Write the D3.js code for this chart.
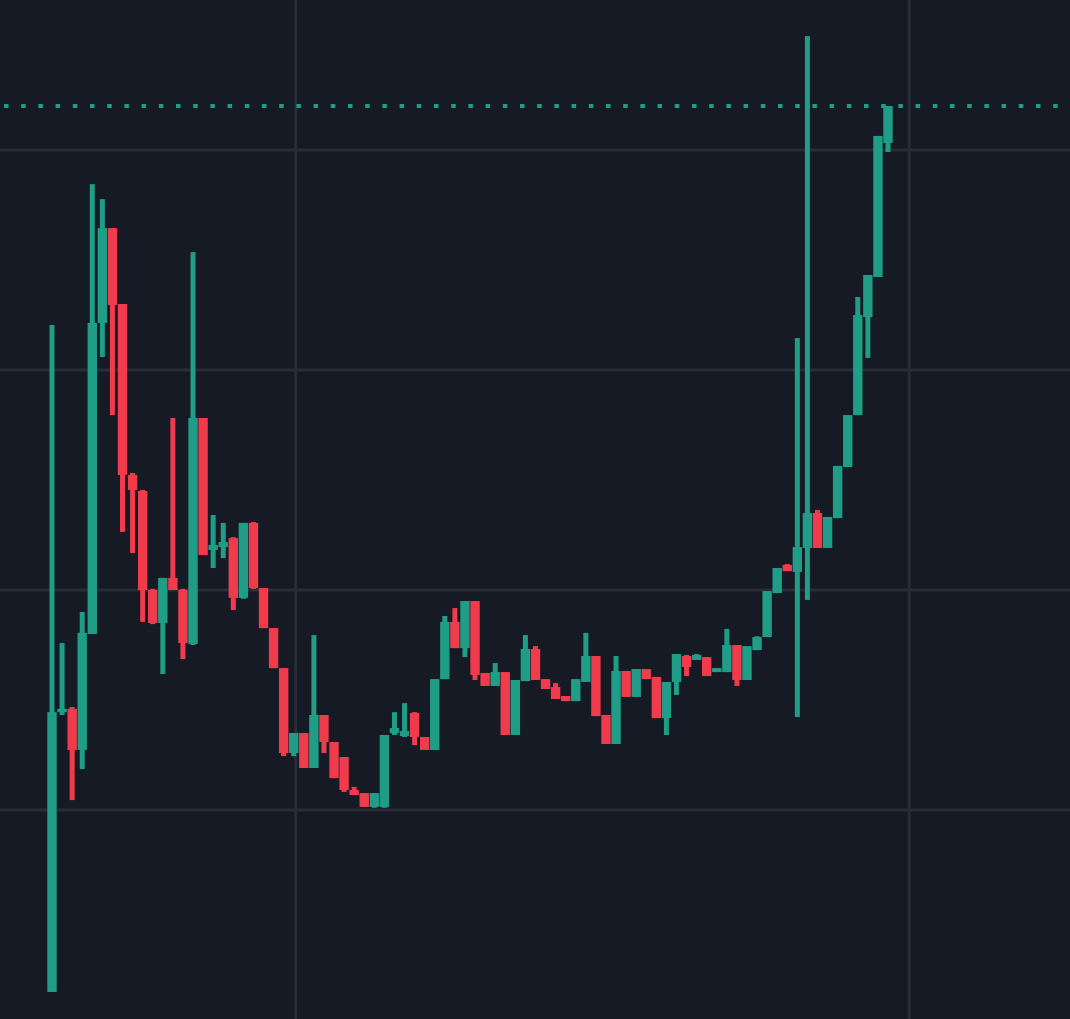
<!DOCTYPE html>
<html>
<head>
<meta charset="utf-8">
<script src="https://cdn.jsdelivr.net/npm/d3@7"></script>
<style>
  html, body { margin: 0; padding: 0; background: #161a25; overflow: hidden; }
  svg { display: block; }
</style>
</head>
<body>
<svg id="chart" width="1070" height="1019"></svg>
<script>
// ---- Data ----
const candleIndex = d3.range(84);
const open  = [17.3,144.5,146.0,127.3,180.0,321.4,364.5,330.0,252.3,245.0,200.0,185.0,205.5,200.0,175.5,278.2,218.2,219.5,223.6,196.4,230.5,200.9,182.7,164.5,125.9,135.0,119.1,143.2,130.9,124.1,109.1,107.7,101.4,101.4,135.0,133.6,144.1,133.2,127.3,159.5,185.5,173.6,195.0,162.3,156.4,162.7,134.1,158.6,173.2,159.5,155.9,151.8,149.5,158.2,170.0,143.2,130.0,163.2,151.4,164.1,160.5,141.8,158.2,170.0,168.2,169.5,162.7,162.7,175.0,159.1,172.7,178.6,198.6,211.4,208.2,219.1,235.0,219.1,232.7,255.9,279.5,324.1,342.3,403.2];
const high  = [320.5,175.9,146.8,190.0,384.5,377.7,364.5,330.0,253.2,245.5,200.5,205.5,278.2,200.5,353.6,278.2,234.1,230.5,224.0,230.5,230.9,200.9,182.7,164.5,135.0,135.0,179.5,143.2,130.9,124.1,110.5,107.7,107.7,134.1,144.5,148.6,144.5,133.2,159.5,188.2,191.8,195.0,195.0,162.3,166.8,162.7,159.1,179.5,174.5,159.5,157.7,151.8,159.5,180.5,170.0,143.2,170.0,163.2,164.1,164.1,160.5,158.2,170.9,170.5,170.9,169.5,164.5,182.3,175.0,174.5,179.0,199.5,210.0,211.8,314.5,451.8,236.4,233.2,256.4,279.5,333.2,343.2,406.4,420.0];
const low   = [17.3,143.2,104.5,118.6,180.0,305.9,279.5,226.4,216.8,185.5,184.5,161.8,200.0,168.6,175.0,215.9,210.0,214.5,190.9,196.0,200.5,182.7,164.5,124.5,124.5,119.1,119.1,125.9,114.5,108.2,106.8,101.4,101.0,101.0,134.1,133.2,129.5,127.3,127.3,159.5,173.6,169.5,159.1,156.4,156.4,134.1,134.1,158.6,159.1,155.0,150.5,149.5,149.5,158.2,142.7,130.0,130.0,151.4,151.4,159.5,141.8,134.1,152.3,160.9,168.2,160.9,162.7,162.7,156.4,159.1,172.7,178.6,198.6,208.6,142.3,195.5,219.1,219.1,232.7,255.9,279.5,305.5,342.3,399.1];
const close = [144.5,146.0,127.3,180.5,321.4,364.5,329.5,252.3,245.5,200.0,185.0,205.5,200.0,175.9,278.2,215.9,220.5,221.8,196.4,230.5,200.9,182.7,164.5,125.9,135.0,119.1,143.2,130.9,114.5,109.1,106.8,101.4,107.7,134.1,137.3,135.9,133.2,127.3,159.5,185.5,173.6,195.0,161.4,156.4,162.7,134.1,159.1,173.2,159.1,155.0,150.5,149.5,159.5,170.0,142.7,130.0,163.2,151.4,164.1,159.5,141.8,158.2,170.9,165.0,170.5,160.9,164.5,175.0,159.1,174.5,178.6,199.5,210.0,208.6,219.5,235.0,219.1,233.2,256.4,279.5,325.0,343.2,406.4,420.0];
const priceGridTicks = [100, 200, 300, 400];
const timeGridTicks = [24.2, 85.1];

// ---- Layout / style ----
const W = 1070, H = 1019;
const colors = { bg: "#161a25", grid: "#292d39", up: "#1f9d86", down: "#ef3b4c" };

const x = d3.scaleLinear().domain([0, 83]).range([52, 888]);
const y = d3.scaleLinear().domain([5, 468.2]).range([H, 0]);

const svg = d3.select("#chart");
svg.append("rect").attr("width", W).attr("height", H).attr("fill", colors.bg);

// grid
const grid = svg.append("g");
grid.selectAll("line.h").data(priceGridTicks).join("line")
  .attr("class", "h")
  .attr("x1", 0).attr("x2", W)
  .attr("y1", d => y(d)).attr("y2", d => y(d))
  .attr("stroke", colors.grid).attr("stroke-width", 3);
grid.selectAll("line.v").data(timeGridTicks).join("line")
  .attr("class", "v")
  .attr("y1", 0).attr("y2", H)
  .attr("x1", d => x(d)).attr("x2", d => x(d))
  .attr("stroke", colors.grid).attr("stroke-width", 3);

// candles
const data = candleIndex.map(i => ({ i, o: open[i], h: high[i], l: low[i], c: close[i] }));
const bodyW = 9.4, wickW = 5;
const g = svg.append("g");
const cg = g.selectAll("g.candle").data(data).join("g").attr("class", "candle");
cg.append("rect")
  .attr("x", d => x(d.i) - wickW / 2)
  .attr("width", wickW)
  .attr("y", d => y(d.h))
  .attr("height", d => Math.max(1, y(d.l) - y(d.h)))
  .attr("fill", d => d.c >= d.o ? colors.up : colors.down);
cg.append("rect")
  .attr("x", d => x(d.i) - bodyW / 2)
  .attr("width", bodyW)
  .attr("y", d => y(Math.max(d.o, d.c)))
  .attr("height", d => Math.max(3, Math.abs(y(d.o) - y(d.c))))
  .attr("fill", d => d.c >= d.o ? colors.up : colors.down);

// last price dotted line
const last = close[close.length - 1];
svg.append("line")
  .attr("x1", 4).attr("x2", W)
  .attr("y1", y(last)).attr("y2", y(last))
  .attr("stroke", colors.up).attr("stroke-width", 4)
  .attr("stroke-dasharray", "4.5 12.7");
</script>
</body>
</html>
